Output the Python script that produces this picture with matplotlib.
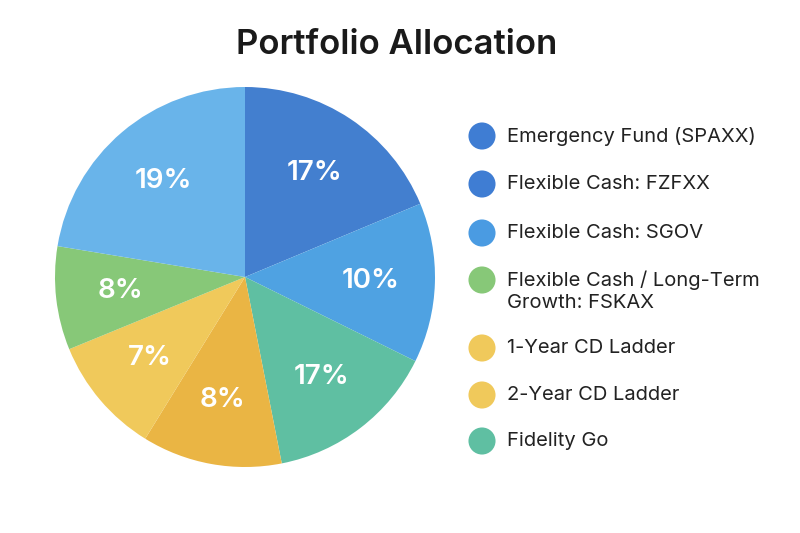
import matplotlib.pyplot as plt

plt.rcParams["font.family"] = ["Inter", "DejaVu Sans"]

# slice shares (clockwise from 12 o'clock)
shares = [18.7, 13.6, 14.6, 11.9, 10.0, 8.8, 22.4]
shown = ["17%", "10%", "17%", "8%", "7%", "8%", "19%"]
slice_colors = ["#437FCF", "#4FA2E2", "#5FBFA2", "#EAB544", "#F0C95B", "#87C878", "#69B4EA"]

legend_labels = [
    "Emergency Fund (SPAXX)",
    "Flexible Cash: FZFXX",
    "Flexible Cash: SGOV",
    "Flexible Cash / Long-Term\nGrowth: FSKAX",
    "1-Year CD Ladder",
    "2-Year CD Ladder",
    "Fidelity Go",
]
legend_colors = ["#3F7DD3", "#3F7DD3", "#4A9BE2", "#87C878", "#F0C95B", "#F0C95B", "#5FBFA2"]

W, H = 800, 533
fig = plt.figure(figsize=(8, 5.33), dpi=100)

# pie
ax = fig.add_axes([55 / W, (H - 467) / H, 380 / W, 380 / H])
wedges, texts = ax.pie(
    shares,
    colors=slice_colors,
    startangle=90,
    counterclock=False,
    radius=1,
    labels=shown,
    labeldistance=0.66,
    wedgeprops=dict(linewidth=0),
    textprops=dict(color="white", fontsize=20, fontweight="semibold"),
)
for t in texts:
    t.set_ha("center")
    t.set_va("center")
ax.set_xlim(-1, 1)
ax.set_ylim(-1, 1)
ax.set_aspect("equal")
ax.axis("off")

fig.text(397 / W, 1 - 45 / H, "Portfolio Allocation", ha="center", va="center",
         fontsize=25, fontweight="semibold", color="#1a1a1a")

# legend drawn in pixel coordinates
lax = fig.add_axes([0, 0, 1, 1])
lax.set_xlim(0, W)
lax.set_ylim(H, 0)
lax.axis("off")
rows_y = [136, 184, 233, 280, 348, 395, 441]
for y, lab, c in zip(rows_y, legend_labels, legend_colors):
    lax.scatter([482], [y], s=380, color=c, edgecolors="none")
    for k, line in enumerate(lab.split("\n")):
        lax.text(507, y + 23 * k, line, ha="left", va="center",
                 fontsize=14.5, color="#222222")

fig.savefig("out.png", dpi=100, facecolor="white")
